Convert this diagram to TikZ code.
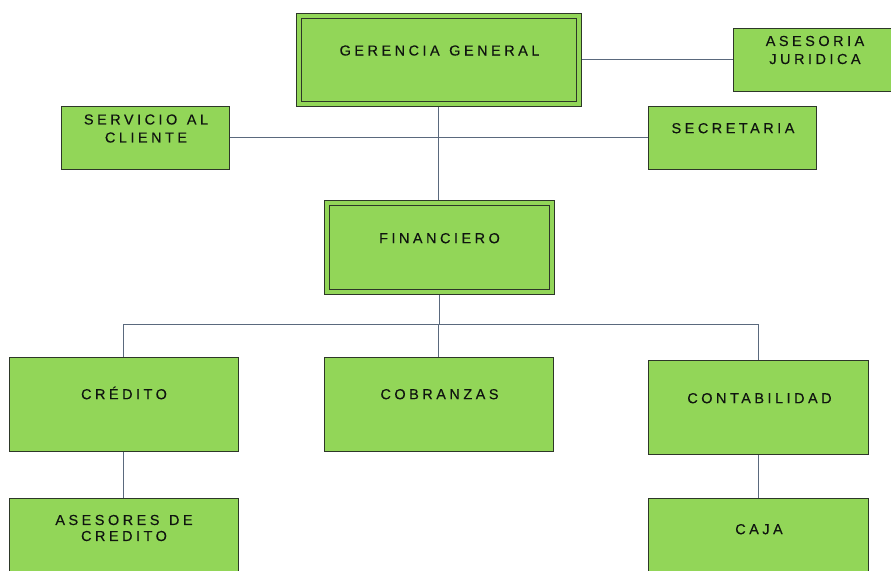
\documentclass[tikz,border=0pt]{standalone}
\usepackage{fontspec}
\setmainfont{Liberation Sans}
\newfontfamily\boxfont[LetterSpace=24,FakeBold=0.2]{Liberation Sans}
\usetikzlibrary{backgrounds}
\definecolor{boxgreen}{RGB}{146,214,88}
\definecolor{boxline}{RGB}{45,55,40}
\definecolor{conn}{RGB}{90,105,125}
\definecolor{txt}{RGB}{15,20,15}
\begin{document}
\begin{tikzpicture}[x=1pt,y=-1pt,
  box/.style={draw=boxline,fill=boxgreen,line width=1pt,inner sep=0pt,outer sep=0pt,rectangle},
  dbox/.style={box,double=boxgreen,double distance=4pt},
  lbl/.style={font=\boxfont\fontsize{14.5}{18}\selectfont,text=txt,inner sep=0pt,align=center},
  lblb/.style={lbl,anchor=base},
  link/.style={draw=conn,line width=1pt}]
\useasboundingbox (0,0) rectangle (891,570);
% boxes
\node[dbox,minimum width=279.5pt,minimum height=87.5pt] (gg) at (438.75,59.75) {};
\node[box,minimum width=160pt,minimum height=62.5pt] (aj) at (813.5,59.75) {};
\node[box,minimum width=168.5pt,minimum height=62.5pt] (sc) at (145.25,137.75) {};
\node[box,minimum width=168pt,minimum height=62.5pt] (se) at (732,137.75) {};
\node[dbox,minimum width=225pt,minimum height=89pt] (fi) at (439,247) {};
\node[box,minimum width=229.5pt,minimum height=94pt] (cr) at (123.75,404) {};
\node[box,minimum width=229pt,minimum height=94pt] (co) at (438.5,404) {};
\node[box,minimum width=220pt,minimum height=93.5pt] (ct) at (758,407.25) {};
\node[box,minimum width=229.5pt,minimum height=92pt] (ac) at (123.75,544) {};
\node[box,minimum width=220pt,minimum height=94pt] (cj) at (758,545) {};
% labels
\node[lblb] (ggt) at (439.5,55.5) {GERENCIA\hspace{2pt} GENERAL};
\node[lbl,anchor=center] (ajt) at (815,50) {ASESORIA\\JURIDICA};
\node[lbl,anchor=center] (sct) at (146,128.5) {SERVICIO\hspace{2pt} AL\\CLIENTE};
\node[lblb] (set) at (733,133.2) {SECRETARIA};
\node[lblb] (fit) at (439.5,243.2) {FINANCIERO};
\node[lblb] (crt) at (124,399.2) {CRÉDITO};
\node[lblb] (cot) at (439.5,399.2) {COBRANZAS};
\node[lblb] (ctt) at (759.5,403.2) {CONTABILIDAD};
\node[lbl,anchor=center,font=\boxfont\fontsize{14.5}{16}\selectfont] (act) at (124,528) {ASESORES\hspace{2pt} DE\\CREDITO};
\node[lblb] (cjt) at (759,534.2) {CAJA};
% connectors
\coordinate (bus) at (438.5,324);
\begin{scope}[on background layer]
\draw[link] (gg.east) -- (gg.east -| aj.west);
\draw[link] (sc.east) -- (se.west);
\draw[link] (gg.south) -- (gg.south |- fi.north);
\draw[link] (fi.south) -- (fi.south |- bus);
\draw[link] (cr.north) |- (ct.north |- bus) -- (ct.north);
\draw[link] (co.north) -- (co.north |- bus);
\draw[link] (cr.south) -- (ac.north);
\draw[link] (ct.south) -- (cj.north);
\end{scope}
\end{tikzpicture}
\end{document}
